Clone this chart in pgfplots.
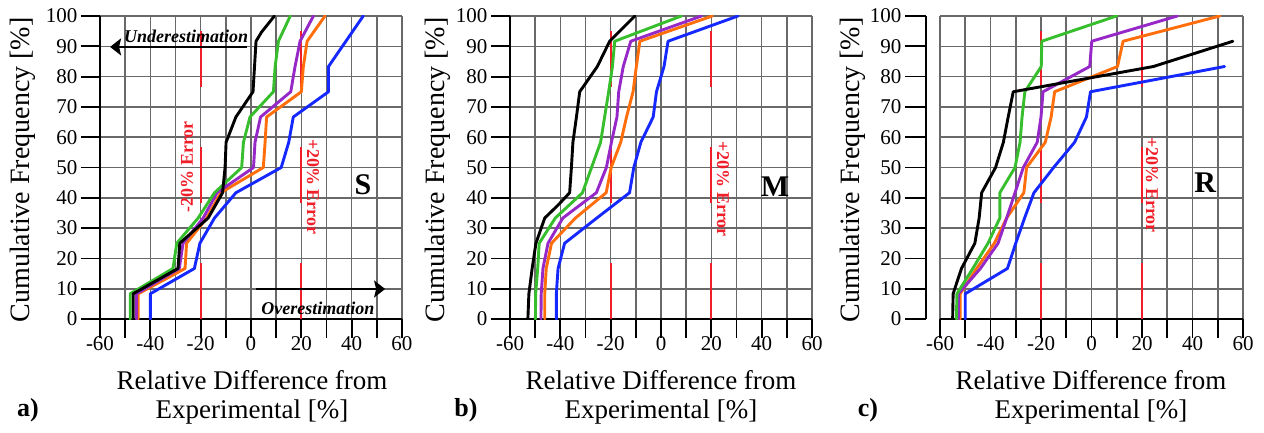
\documentclass[border=0pt]{standalone}
\usepackage{fontspec}
\setmainfont{Liberation Serif}
\usepackage{pgfplots}
\pgfplotsset{compat=1.18}
\usetikzlibrary{arrows.meta}

\definecolor{cgreen}{RGB}{55,190,45}
\definecolor{cpurple}{RGB}{150,40,200}
\definecolor{corange}{RGB}{255,110,10}
\definecolor{cblue}{RGB}{20,40,255}
\definecolor{errred}{RGB}{240,30,40}
\definecolor{gridgray}{RGB}{105,105,105}

\pgfplotsset{
  panel/.style={
    scale only axis, width=302pt, height=303pt,
    xmin=-60, xmax=60, ymin=0, ymax=100,
    axis lines=left,
    axis line style={-, line width=1.8pt, black},
    xtick={-60,-50,...,60},
    xticklabels={-60,,-40,,-20,,0,,20,,40,,60},
    ytick={0,10,...,100},
    yticklabels={0,10,20,30,40,50,60,70,80,90,100},
    tick align=outside, major tick length=19pt,
    tick style={line width=1.8pt, black},
    grid=major,
    major grid style={line width=1.6pt, gridgray},
    tick label style={font=\fontsize{21}{21}\selectfont},
    xticklabel style={yshift=5pt},
  },
  curve/.style={line width=2.9pt, line join=round, line cap=round},
  errline/.style={errred, line width=2pt, dash pattern=on 56pt off 60pt},
}
\tikzset{
  errtext/.style={text=errred, font=\bfseries\fontsize{18}{18}\selectfont},
  tag/.style={font=\bfseries\fontsize{30}{30}\selectfont},
  axlab/.style={font=\fontsize{27}{29}\selectfont, align=center},
  ylab/.style={font=\fontsize{28}{28}\selectfont, rotate=90},
  plabel/.style={font=\bfseries\fontsize{26}{26}\selectfont},
}

\begin{document}
\begin{tikzpicture}

% ---------------- a) S ----------------
\begin{axis}[panel, at={(100pt,113pt)}, anchor=south west]
\addplot[errline] coordinates {(-20,0) (-20,100)};
\addplot[errline] coordinates {(20,0) (20,100)};
\addplot[curve, cblue] coordinates {(-40,0) (-40,8.33) (-22.5,16.67) (-20.3,25) (-14.5,33.33) (-6,41.67) (12,50) (15,58.33) (16.8,66.67) (30.8,75) (30.8,83.33) (44.6,100)};
\addplot[curve, corange] coordinates {(-44.8,0) (-44.8,8.33) (-26.2,16.67) (-25.6,25) (-17.6,33.33) (-12,41.67) (4.9,50) (5.6,58.33) (6.2,66.67) (20,75) (20.8,83.33) (22.3,91.67) (29.4,100)};
\addplot[curve, cpurple] coordinates {(-45.5,0) (-45.5,8.33) (-28.5,16.67) (-27,25) (-19,33.33) (-13.5,41.67) (1,50) (1.6,58.33) (3.8,66.67) (15.8,75) (17.5,83.33) (19.5,91.67) (24.8,100)};
\addplot[curve, cgreen] coordinates {(-48,0) (-48,8.33) (-31,16.67) (-29.5,25) (-21,33.33) (-14.5,41.67) (-3.7,50) (-3,58.33) (-0.4,66.67) (8.9,75) (9.6,83.33) (10.9,91.67) (15.6,100)};
\addplot[curve, black] coordinates {(-46.8,0) (-46.8,8.33) (-29,16.67) (-28.3,25) (-17,33.33) (-11.3,41.67) (-10.3,50) (-9.9,58.33) (-6,66.67) (0.8,75) (1.4,83.33) (2,91.67) (4.2,94.7) (9.3,100)};
\node[font=\bfseries\itshape\fontsize{18}{18}\selectfont] at (axis cs:-25.8,93.4) {Underestimation};
\draw[line width=2pt, -{Stealth[length=11pt, width=17pt, inset=2pt]}] (axis cs:-1.6,89.8) -- (axis cs:-56,89.8);
\node[font=\bfseries\itshape\fontsize{18}{18}\selectfont] at (axis cs:26.6,3.6) {Overestimation};
\draw[line width=2pt, -{Stealth[length=11pt, width=17pt, inset=2pt]}] (axis cs:2,9.9) -- (axis cs:53.3,9.9);
\node[errtext, rotate=90] at (axis cs:-25.4,50.2) {-20\% Error};
\node[errtext, rotate=-90] at (axis cs:24.6,43.6) {+20\% Error};
\node[tag] at (axis cs:44.5,44.2) {S};
\end{axis}

% ---------------- b) M ----------------
\begin{axis}[panel, at={(510pt,113pt)}, anchor=south west]
\addplot[errline] coordinates {(-20,0) (-20,100)};
\addplot[errline] coordinates {(20,0) (20,100)};
\addplot[curve, cblue] coordinates {(-41.6,0) (-41.6,8.33) (-40.9,16.67) (-38.3,25) (-25.5,33.33) (-12.5,41.67) (-10.8,50) (-8,58.33) (-3.1,66.67) (-1.8,75) (1.2,83.33) (2.8,91.67) (30.6,100)};
\addplot[curve, corange] coordinates {(-46.2,0) (-46.2,8.33) (-45.6,16.67) (-43.5,25) (-34,33.33) (-21.8,41.67) (-19.8,50) (-16,58.33) (-13.7,66.67) (-11.1,75) (-9.8,83.33) (-8.4,91.67) (20.4,100)};
\addplot[curve, cpurple] coordinates {(-47.7,0) (-47.6,8.33) (-46.9,16.67) (-44.9,25) (-39,33.33) (-25.7,41.67) (-21.7,50) (-19.7,58.33) (-17.5,66.67) (-16.8,75) (-15,83.33) (-12,91.67) (16.1,100)};
\addplot[curve, cgreen] coordinates {(-49.9,0) (-49.8,8.33) (-49,16.67) (-48.4,25) (-42,33.33) (-31.2,41.67) (-27.6,50) (-24,58.33) (-22.4,66.67) (-20.8,75) (-19.3,83.33) (-18.4,91.67) (8.1,100)};
\addplot[curve, black] coordinates {(-52.9,0) (-52.5,8.33) (-51.2,16.67) (-49.7,25) (-46.2,33.33) (-41,37.5) (-36.3,41.67) (-35.6,50) (-35,58.33) (-33.6,66.67) (-32.3,75) (-25.3,83.33) (-20.4,91.67) (-10.4,100)};
\node[errtext, rotate=-90] at (axis cs:24.6,42.9) {+20\% Error};
\node[tag] at (axis cs:45.3,43.6) {M};
\end{axis}

% ---------------- c) R ----------------
\begin{axis}[panel, at={(940pt,113pt)}, anchor=south west, width=303pt,
  y axis line style={draw=none}, ytick style={draw=none}, yticklabels={}]
\addplot[errline] coordinates {(-20,0) (-20,100)};
\addplot[errline] coordinates {(20,0) (20,100)};
\addplot[curve, cblue] coordinates {(-50,0) (-50,8.33) (-33.3,16.67) (-30,25) (-26.5,33.33) (-22.8,41.67) (-15,50) (-6.7,58.33) (-2,66.67) (-0.4,75) (52.7,83.33)};
\addplot[curve, corange] coordinates {(-52,0) (-52,8.33) (-45.5,16.67) (-38.5,25) (-33.6,33.33) (-26.8,41.67) (-25.7,50) (-18.3,58.33) (-16,66.67) (-14.6,75) (10.3,83.33) (12.5,91.67) (50.8,100)};
\addplot[curve, cpurple] coordinates {(-52.7,0) (-52.7,8.33) (-44,16.67) (-37,25) (-33.6,33.33) (-30.3,41.67) (-27,50) (-21.5,58.33) (-20,66.67) (-19.2,75) (-0.7,83.33) (0.1,91.67) (34,100)};
\addplot[curve, cgreen] coordinates {(-53.5,0) (-53.3,8.33) (-47,16.67) (-41,25) (-36.3,33.33) (-36.3,41.67) (-30.3,50) (-28.3,58.33) (-27.5,66.67) (-26.4,75) (-19.9,83.33) (-19.7,91.67) (9.9,100)};
\addplot[curve, black] coordinates {(-55,0) (-54.8,8.33) (-51.5,16.67) (-46.2,25) (-44.5,33.33) (-43.5,41.67) (-38,50) (-34.9,58.33) (-33,66.67) (-31,75) (24.5,83.33) (56,91.67)};
\node[errtext, rotate=-90] at (axis cs:24,44.2) {+20\% Error};
\node[tag] at (axis cs:45,44.9) {R};
\end{axis}
% detached frequency axis of panel c
\begin{axis}[at={(926pt,113pt)}, anchor=south west, scale only axis,
  width=14pt, height=303pt, xmin=0, xmax=1, ymin=0, ymax=100,
  axis x line=none, axis y line=left,
  axis line style={-, line width=1.8pt, black},
  ytick={0,10,...,100}, yticklabels={0,10,20,30,40,50,60,70,80,90,100},
  tick align=outside, major tick length=21pt,
  tick style={line width=1.8pt, black},
  tick label style={font=\fontsize{21}{21}\selectfont}]
\end{axis}

% axis titles and panel letters
\node[axlab] at (252pt,35pt) {Relative Difference from\\Experimental [\%]};
\node[axlab] at (661pt,35pt) {Relative Difference from\\Experimental [\%]};
\node[axlab] at (1091pt,35pt) {Relative Difference from\\Experimental [\%]};
\node[ylab] at (23pt,262pt) {Cumulative Frequency [\%]};
\node[ylab] at (438pt,262pt) {Cumulative Frequency [\%]};
\node[ylab] at (853pt,262pt) {Cumulative Frequency [\%]};
\node[plabel] at (28pt,22pt) {a)};
\node[plabel] at (466pt,22pt) {b)};
\node[plabel] at (868pt,22pt) {c)};

\pgfresetboundingbox
\path[use as bounding box] (0,0) rectangle (1264pt,432pt);
\end{tikzpicture}
\end{document}
